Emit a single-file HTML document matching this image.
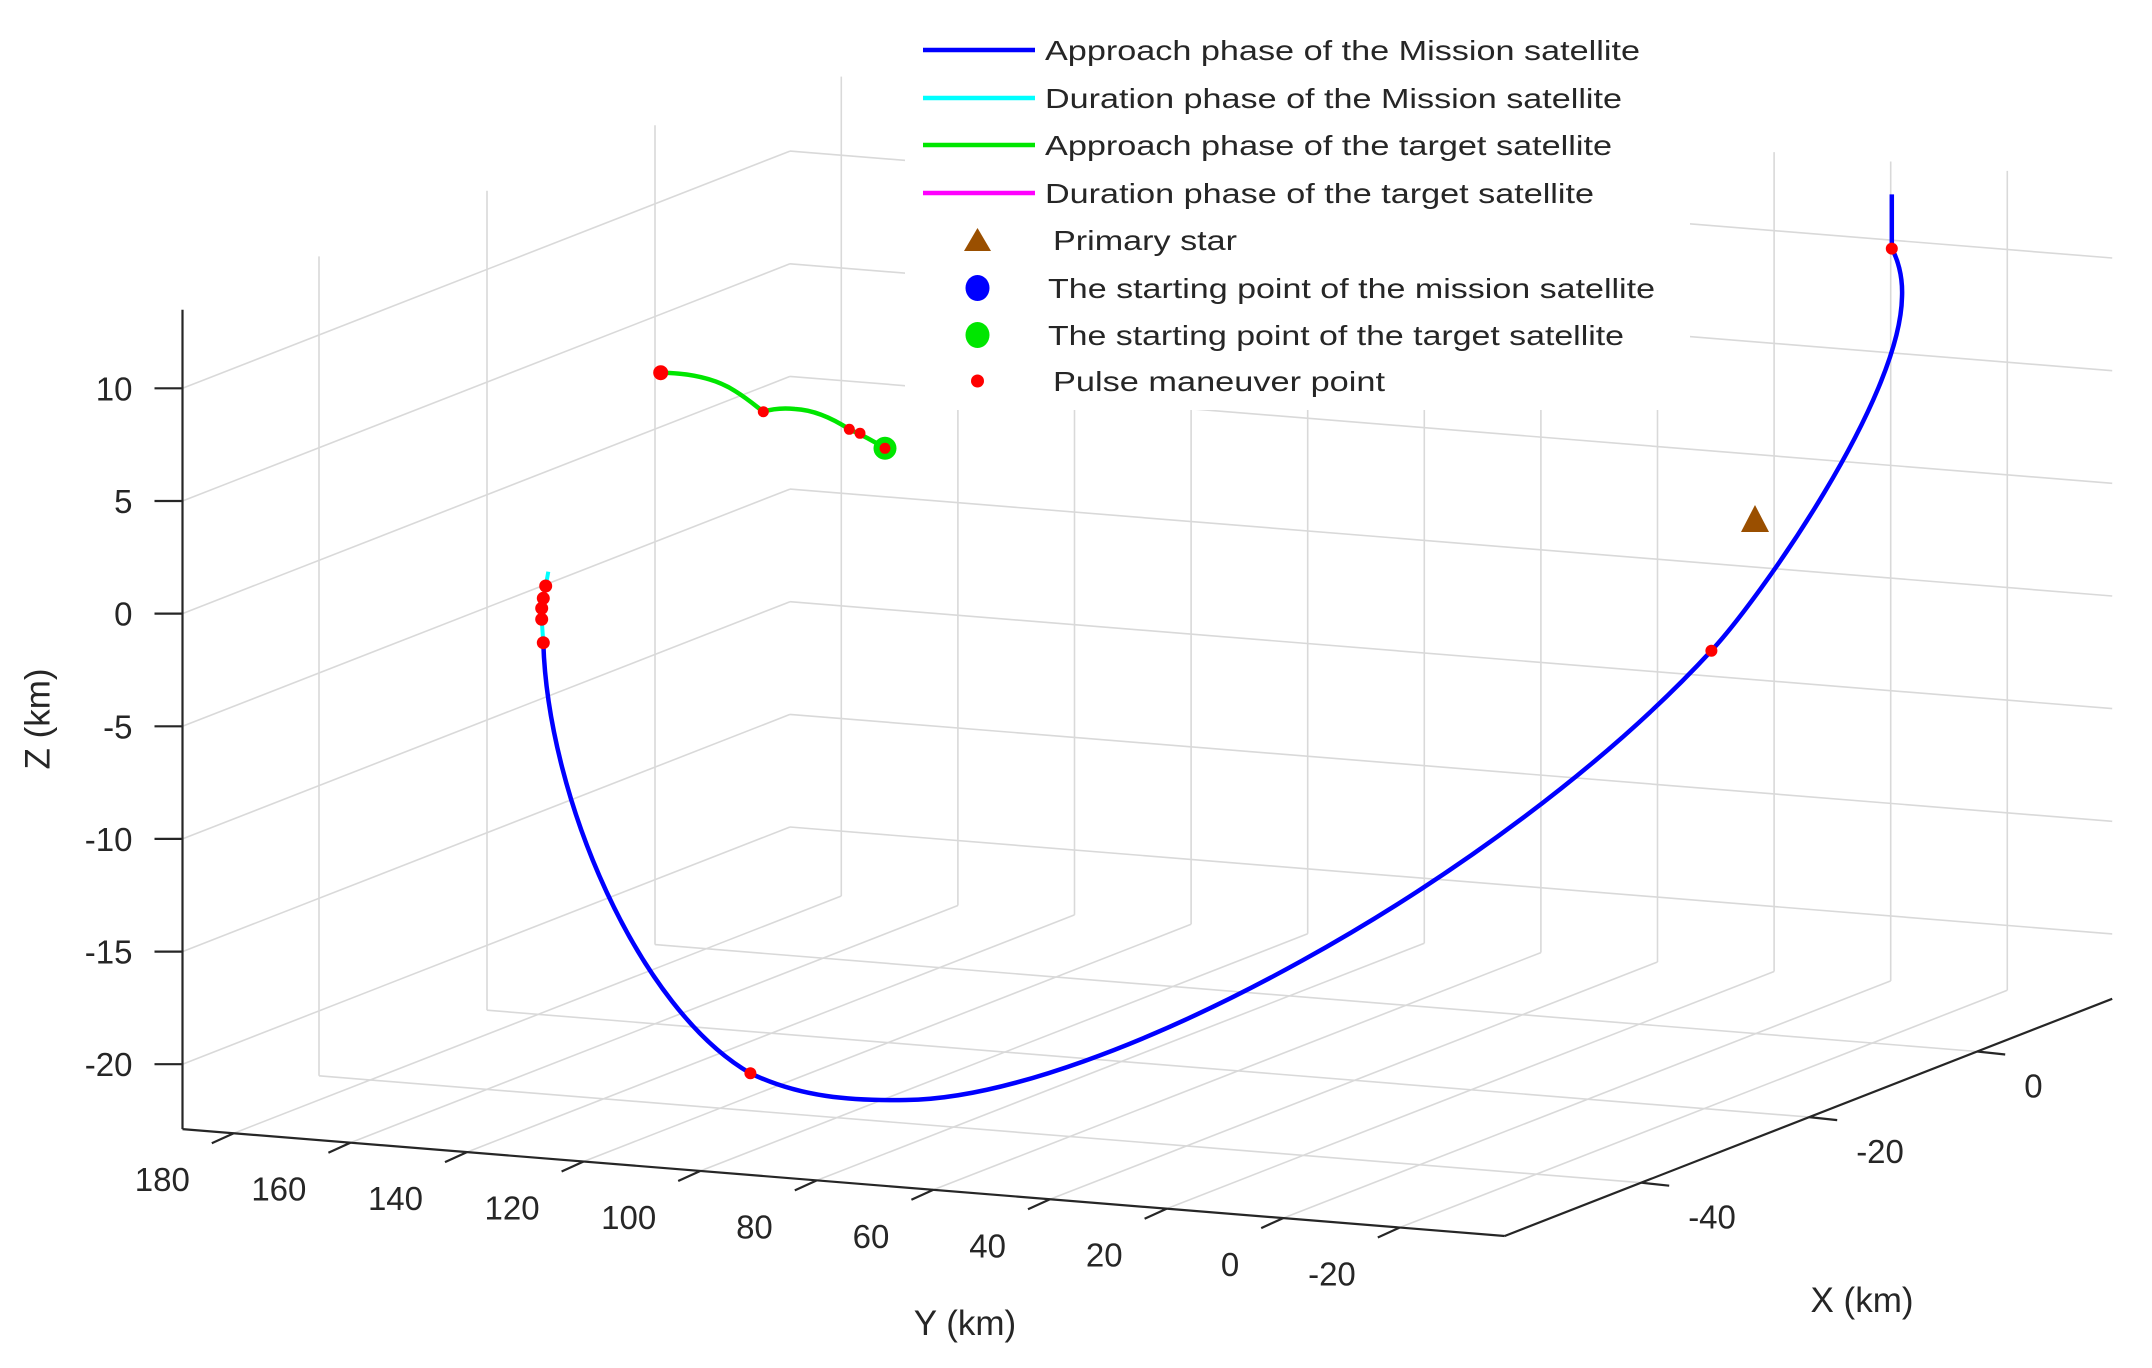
<!DOCTYPE html>
<html><head><meta charset="utf-8"><style>
html,body{margin:0;padding:0;background:#fff;}
svg{display:block;}
text{font-family:"Liberation Sans",Arial,sans-serif;fill:#262626;}
</style></head><body>
<svg id="s" width="2152" height="1368" viewBox="0 0 2152 1368" xmlns="http://www.w3.org/2000/svg">
<rect width="2152" height="1368" fill="#fff"/>
<g id="grid" stroke="#d9d9d9" stroke-width="1.6" fill="none"></g>
<g id="axes" stroke="#262626" stroke-width="2.2" fill="none"></g>
<g id="labels" font-size="33"></g>
<text x="40" y="719" font-size="35" text-anchor="middle" transform="rotate(-90 40 719)" dominant-baseline="middle">Z (km)</text>
<text x="965" y="1335" font-size="35" text-anchor="middle">Y (km)</text>
<text x="1862" y="1312" font-size="35" text-anchor="middle">X (km)</text>

<!-- green target trajectory -->
<path d="M660.7,372.7 C690,373 715,378 735,391 C748,399 757,407 763.3,411.7 C775,408 785,408 795,409 C815,410 835,420 849.3,429.3 C860,434 875,442 885,448.3" stroke="#00e600" stroke-width="4.5" fill="none"/>
<!-- cyan duration -->
<path d="M548.3,571.7 L545.7,586 L543.3,598.3 L541.7,608.3 L541.7,619.3 L543.3,642.7" stroke="#00ffff" stroke-width="4" fill="none"/>
<!-- blue mission trajectory -->
<path d="M543.3,642.7 C548,800 640,1010 750.4,1073.3 C800,1097 850,1101 906,1100 C1100,1098 1500,880 1711.4,650.7 C1760,598 1900,400 1902,297 C1903,275 1897,258 1891.8,248.6 L1891.8,194.4" stroke="#0000ff" stroke-width="4.5" fill="none" stroke-linejoin="round"/>
<!-- markers -->
<g fill="#ff0000">
<circle cx="885" cy="448.3" r="11.5" fill="#00e600"/>
<circle cx="885" cy="448.3" r="5.5"/>
<circle cx="660.7" cy="372.7" r="7.5"/>
<circle cx="763.3" cy="411.7" r="5.5"/>
<circle cx="849.3" cy="429.3" r="5.5"/>
<circle cx="860" cy="433.3" r="5.5"/>
<circle cx="545.7" cy="586" r="6.5"/>
<circle cx="543.3" cy="598.3" r="6.5"/>
<circle cx="541.7" cy="608.3" r="6.5"/>
<circle cx="541.7" cy="619.3" r="6.5"/>
<circle cx="543.3" cy="642.7" r="6.5"/>
<circle cx="750.4" cy="1073.3" r="6"/>
<circle cx="1711.4" cy="650.7" r="6"/>
<circle cx="1891.8" cy="248.6" r="6"/>
</g>
<polygon points="1755,505 1769,532 1741,532" fill="#9a4f00"/>

<!-- legend -->
<rect x="905" y="22" width="785" height="388" fill="#fff"/>
<g font-size="28">
<line x1="923" y1="50" x2="1035" y2="50" stroke="#0000ff" stroke-width="4.5"/>
<text x="1045" y="60" textLength="595" lengthAdjust="spacingAndGlyphs">Approach phase of the Mission satellite</text>
<line x1="923" y1="98" x2="1035" y2="98" stroke="#00ffff" stroke-width="4.5"/>
<text x="1045" y="108" textLength="577" lengthAdjust="spacingAndGlyphs">Duration phase of the Mission satellite</text>
<line x1="923" y1="145" x2="1035" y2="145" stroke="#00e600" stroke-width="4.5"/>
<text x="1045" y="155" textLength="567" lengthAdjust="spacingAndGlyphs">Approach phase of the target satellite</text>
<line x1="923" y1="193" x2="1035" y2="193" stroke="#ff00ff" stroke-width="4.5"/>
<text x="1045" y="203" textLength="549" lengthAdjust="spacingAndGlyphs">Duration phase of the target satellite</text>
<polygon points="977.5,228 991,251 964,251" fill="#9a4f00"/>
<text x="1053" y="250" textLength="184" lengthAdjust="spacingAndGlyphs">Primary star</text>
<ellipse cx="977.5" cy="288" rx="12" ry="13" fill="#0000ff"/>
<text x="1048" y="298" textLength="607" lengthAdjust="spacingAndGlyphs">The starting point of the mission satellite</text>
<ellipse cx="977.5" cy="335" rx="12" ry="13" fill="#00e600"/>
<text x="1048" y="345" textLength="576" lengthAdjust="spacingAndGlyphs">The starting point of the target satellite</text>
<circle cx="977.5" cy="381" r="6.5" fill="#ff0000"/>
<text x="1053" y="391" textLength="332" lengthAdjust="spacingAndGlyphs">Pulse maneuver point</text>
</g>
</svg>
<script>
(function(){
var NS="http://www.w3.org/2000/svg";
var YMAX=188.8,YMIN=-38,XMIN=-56.25,XMAX=16.07,ZMIN=-22.88,ZMAX=13.49;
function P(X,Y,Z){return [182.5+(YMAX-Y)*5.83+(X-XMIN)*8.4, 1129.1+(YMAX-Y)*0.4715-(X-XMIN)*3.28-(Z-ZMIN)*22.53];}
function L(g,a,b){var l=document.createElementNS(NS,"line");l.setAttribute("x1",a[0].toFixed(1));l.setAttribute("y1",a[1].toFixed(1));l.setAttribute("x2",b[0].toFixed(1));l.setAttribute("y2",b[1].toFixed(1));g.appendChild(l);}
function T(g,x,y,s,anc){var t=document.createElementNS(NS,"text");t.setAttribute("x",x.toFixed(1));t.setAttribute("y",y.toFixed(1));t.setAttribute("text-anchor",anc);t.textContent=s;g.appendChild(t);}
var g=document.getElementById("grid"),ax=document.getElementById("axes"),lb=document.getElementById("labels");
var zt=[-20,-15,-10,-5,0,5,10],yt=[180,160,140,120,100,80,60,40,20,0,-20],xt=[-40,-20,0];
zt.forEach(function(z){L(g,P(XMIN,YMAX,z),P(XMAX,YMAX,z));L(g,P(XMAX,YMAX,z),P(XMAX,YMIN,z));});
xt.forEach(function(x){L(g,P(x,YMAX,ZMIN),P(x,YMAX,ZMAX));L(g,P(x,YMAX,ZMIN),P(x,YMIN,ZMIN));});
yt.forEach(function(y){L(g,P(XMAX,y,ZMIN),P(XMAX,y,ZMAX));L(g,P(XMIN,y,ZMIN),P(XMAX,y,ZMIN));});
L(ax,P(XMIN,YMAX,ZMIN),P(XMIN,YMAX,ZMAX));
L(ax,P(XMIN,YMAX,ZMIN),P(XMIN,YMIN,ZMIN));
L(ax,P(XMIN,YMIN,ZMIN),P(XMAX,YMIN,ZMIN));
zt.forEach(function(z){var p=P(XMIN,YMAX,z);L(ax,p,[p[0]-28,p[1]]);T(lb,p[0]-50,p[1]+12,String(z),"end");});
yt.forEach(function(y){var p=P(XMIN,y,ZMIN);L(ax,p,[p[0]-22,p[1]+10]);T(lb,p[0]-44,p[1]+58,String(y),"end");});
xt.forEach(function(x){var p=P(x,YMIN,ZMIN);L(ax,p,[p[0]+28,p[1]+3]);T(lb,p[0]+47,p[1]+46,String(x),"start");});
})();
</script>
</body></html>
